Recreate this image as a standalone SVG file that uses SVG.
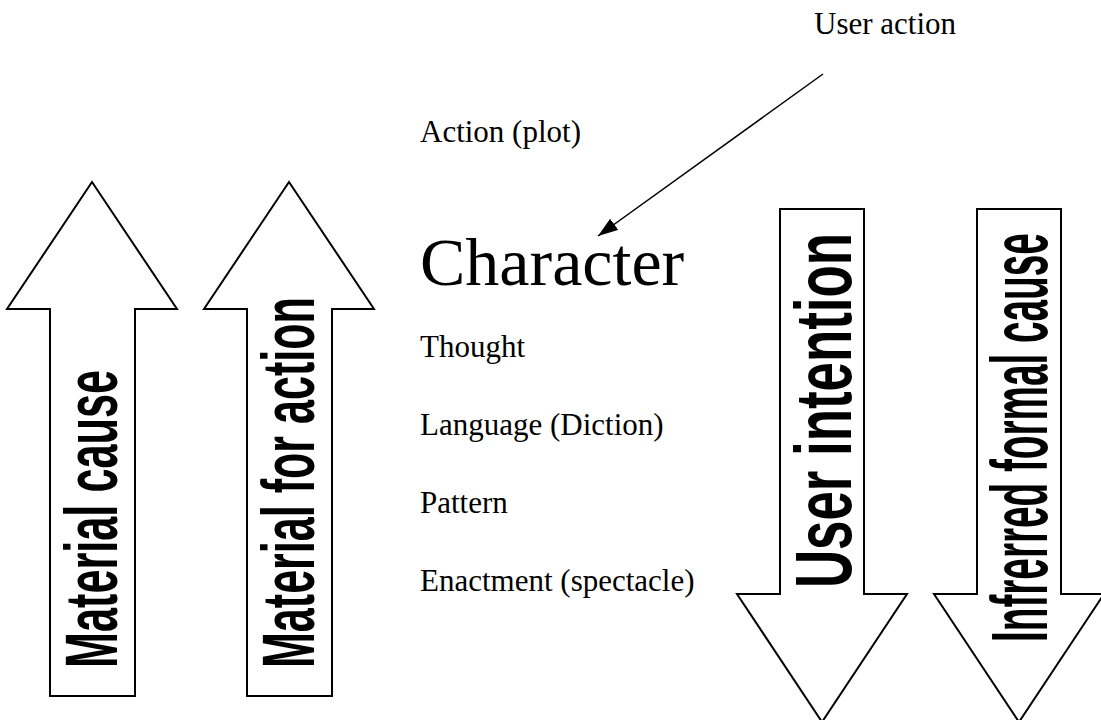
<svg xmlns="http://www.w3.org/2000/svg" width="1101" height="720" viewBox="0 0 1101 720">
  <style>
    .block { fill: #ffffff; stroke: #000000; stroke-width: 2; stroke-linejoin: miter; }
    .blockText { font-family: "Liberation Sans", Arial, sans-serif; font-weight: bold; fill: #000000; }
    .label { font-family: "Liberation Serif", "Times New Roman", serif; font-size: 31px; fill: #000000; }
    .big { font-family: "Liberation Serif", "Times New Roman", serif; font-size: 68px; fill: #000000; }
    .link { stroke: #000000; stroke-width: 1.5; fill: none; }
  </style>
  <defs>
    <marker id="head" markerUnits="userSpaceOnUse" markerWidth="22" markerHeight="16" refX="20" refY="7" orient="auto">
      <path d="M0,0 L20,7 L0,14 Z" fill="#000000"/>
    </marker>
  </defs>
  <rect width="1101" height="720" fill="#ffffff"/>

  <!-- upward block arrows; labels read bottom to top, squeezed along the run -->
  <g id="material-cause">
    <path class="block" d="M92,182 L177,309 L135,309 L135,696 L50,696 L50,309 L7,309 Z"/>
    <text class="blockText" font-size="75" transform="translate(117,668) rotate(-90) scale(0.5765,1)">Material cause</text>
  </g>
  <g id="material-for-action">
    <path class="block" d="M289,182 L374,309 L332,309 L332,696 L247,696 L247,309 L204,309 Z"/>
    <text class="blockText" font-size="75" transform="translate(314,668) rotate(-90) scale(0.5743,1)">Material for action</text>
  </g>

  <!-- downward block arrows -->
  <g id="user-intention">
    <path class="block" d="M780,209 L864,209 L864,594 L907,594 L822,722 L737,594 L780,594 Z"/>
    <text class="blockText" font-size="80" transform="translate(851,588) rotate(-90) scale(0.660,1)">User intention</text>
  </g>
  <g id="inferred-formal-cause">
    <path class="block" d="M977,209 L1061,209 L1061,594 L1104,594 L1019,722 L934,594 L977,594 Z"/>
    <text class="blockText" font-size="80" transform="translate(1047,642) rotate(-90) scale(0.484,1)">Infrerred formal cause</text>
  </g>

  <!-- the six parts, top to bottom -->
  <g id="user-action"><text class="label" x="814" y="34">User action</text></g>
  <g id="action-plot"><text class="label" x="420" y="142">Action (plot)</text></g>
  <g id="character"><text class="big" x="420" y="285">Character</text></g>
  <g id="thought"><text class="label" x="420" y="357">Thought</text></g>
  <g id="language"><text class="label" x="420" y="435">Language (Diction)</text></g>
  <g id="pattern"><text class="label" x="420" y="513">Pattern</text></g>
  <g id="enactment"><text class="label" x="420" y="591">Enactment (spectacle)</text></g>

  <g id="connectors">
    <line class="link" x1="823" y1="74" x2="598" y2="236" marker-end="url(#head)"/>
  </g>
</svg>
